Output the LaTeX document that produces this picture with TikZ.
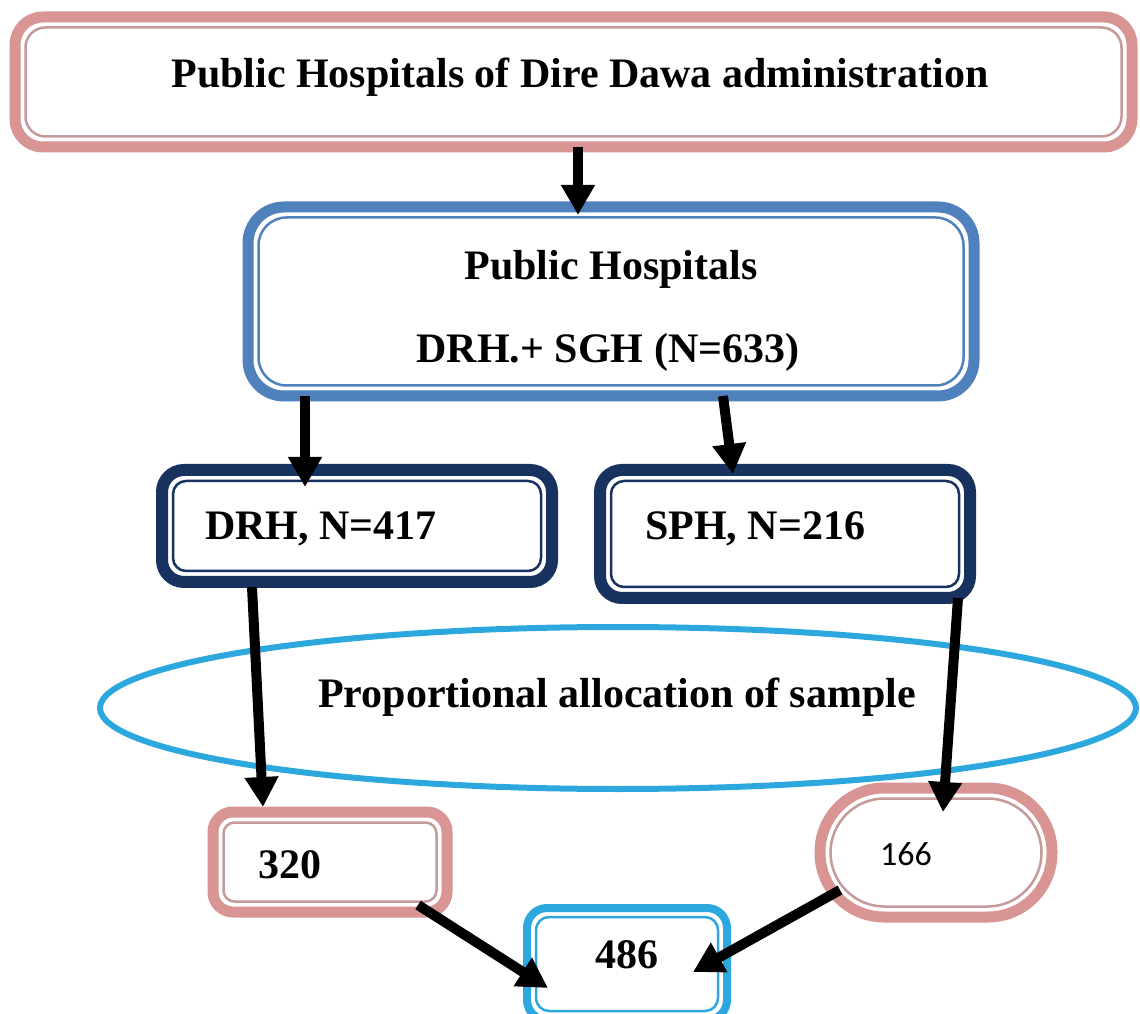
\documentclass[tikz,border=0pt]{standalone}
\usepackage{fontspec}
\setmainfont{Liberation Serif}
\newfontfamily\calfont{Carlito}
\usetikzlibrary{arrows.meta,shapes.geometric,calc}
\definecolor{pinkc}{HTML}{D99594}
\definecolor{pinkin}{HTML}{C49A9A}
\definecolor{bluec}{HTML}{4F81BD}
\definecolor{navyc}{HTML}{17325F}
\definecolor{cyanc}{HTML}{2CA8DF}
\tikzset{
  boxbase/.style={rectangle, outer sep=0pt, inner sep=0pt, fill=white},
  pinkbox/.style={boxbase, draw=pinkc, line width=11pt},
  bluebox/.style={boxbase, draw=bluec, line width=11pt},
  navybox/.style={boxbase, draw=navyc, line width=12pt},
  cyanbox/.style={boxbase, draw=cyanc, line width=8pt},
  lbl/.style={font=\fontsize{42}{50}\selectfont\bfseries, text=black, inner sep=0pt, anchor=base west},
  arr/.style={line width=10pt, draw=black, -{Triangle[width=32pt,length=30pt]}},
}
\newcommand\dblinner[4]{\draw[#4, rounded corners=#3] ($(#1.south west)+(#2,#2)$) rectangle ($(#1.north east)-(#2,#2)$);}
\begin{document}
\begin{tikzpicture}[x=1pt,y=1pt]
\clip (0,0) rectangle (1140,1013);
\fill[white] (0,0) rectangle (1140,1013);

% boxes
\node[pinkbox, rounded corners=28pt, minimum width=1117pt, minimum height=130pt] (top) at (573.5,931) {};
\dblinner{top}{10.5}{20pt}{pinkin, line width=2.5pt}

\node[bluebox, rounded corners=36pt, minimum width=726pt, minimum height=189pt] (hosp) at (611,711.5) {};
\dblinner{hosp}{10.5}{28pt}{bluec, line width=2.5pt}

\node[navybox, rounded corners=22pt, minimum width=390pt, minimum height=112pt] (drh) at (357,487) {};
\dblinner{drh}{11}{13pt}{navyc, line width=2.5pt}

\node[navybox, rounded corners=22pt, minimum width=370pt, minimum height=128pt] (sph) at (785,479) {};
\dblinner{sph}{11}{13pt}{navyc, line width=2.5pt}

\node[ellipse, draw=cyanc, line width=6pt, minimum width=1036pt, minimum height=162pt, inner sep=0pt, outer sep=0pt] (prop) at (618,305) {};

\node[pinkbox, rounded corners=20pt, minimum width=234pt, minimum height=100pt] (b320) at (330,151) {};
\dblinner{b320}{10.5}{11pt}{pinkin, line width=2.5pt}

\node[pinkbox, rounded corners=64pt, minimum width=232pt, minimum height=129pt] (b166) at (936,160.5) {};
\dblinner{b166}{10.5}{54pt}{pinkin, line width=2.5pt}

\node[cyanbox, rounded corners=20pt, minimum width=200pt, minimum height=112pt] (b486) at (627,49) {};
\dblinner{b486}{9}{13pt}{cyanc, line width=2.5pt}

% texts
\node[lbl, anchor=base] (t1) at (580,925) {Public Hospitals of Dire Dawa administration};
\node[lbl, anchor=base] (t2) at (611,733) {Public Hospitals};
\node[lbl, anchor=base] (t3) at (608,650) {DRH.+ SGH (N=633)};
\node[lbl] (t4) at (205,473) {DRH, N=417};
\node[lbl] (t5) at (645,473) {SPH, N=216};
\node[lbl] (t6) at (318,306) {Proportional allocation of sample};
\node[lbl] (t7) at (258,135) {320};
\node[lbl, font=\fontsize{34}{40}\selectfont\calfont] (t8) at (880,148) {166};
\node[lbl] (t9) at (595,45) {486};

% arrows
\draw[arr] ($(top.south)+(4.5,0)$) -- ($(hosp.north)+(-33,-8)$);
\draw[arr] ($(hosp.south)+(-306,0)$) -- ($(drh.north)+(-52,-17)$);
\draw[arr] ($(hosp.south)+(112,0)$) -- ($(sph.north)+(-52,-4)$);
\draw[arr] ($(drh.south)+(-105,-5)$) -- ($(b320.north)+(-67,5)$);
\draw[arr] ($(sph.south)+(173,0)$) -- ($(b166.north)+(7,-24)$);
\draw[arr] ($(b320.south)+(88,7)$) -- ($(b486.center)+(-79,-24)$);
\draw[arr] ($(b166.center)+(-96,-37.5)$) -- ($(b486.center)+(66,-8)$);
\end{tikzpicture}
\end{document}
